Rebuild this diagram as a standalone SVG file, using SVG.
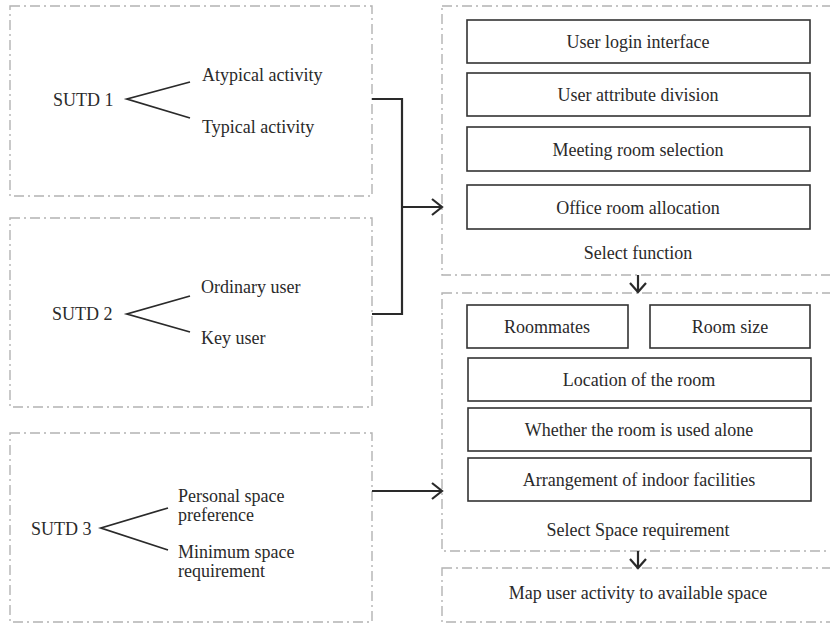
<svg xmlns="http://www.w3.org/2000/svg" width="830" height="623" viewBox="0 0 830 623">
<defs>
<style>
.grp{fill:none;stroke:#b3b3b3;stroke-width:1.4;stroke-dasharray:10 4 2 4}
.box{fill:#fff;stroke:#333;stroke-width:1.6}
.t{font-family:"Liberation Serif","Times New Roman",serif;font-size:18px;fill:#2a2a2a}
.c{text-anchor:middle}
.ln{fill:none;stroke:#2a2a2a;stroke-width:1.8}
.con{fill:none;stroke:#2a2a2a;stroke-width:2.2}
</style>
</defs>
<rect width="830" height="623" fill="#fff"/>
<g id="sutd1">
<rect class="grp" x="10" y="6" width="362" height="190"/>
<text class="t" x="53" y="106">SUTD 1</text>
<polyline class="ln" points="190,82 127,99 190,118"/>
<text class="t" x="202" y="81">Atypical activity</text>
<text class="t" x="202" y="133">Typical activity</text>
</g>
<g id="sutd2">
<rect class="grp" x="10" y="218" width="362" height="189"/>
<text class="t" x="52" y="320">SUTD 2</text>
<polyline class="ln" points="190,296 127,314 190,332"/>
<text class="t" x="201" y="293">Ordinary user</text>
<text class="t" x="201" y="344">Key user</text>
</g>
<g id="sutd3">
<rect class="grp" x="10" y="433" width="362" height="189"/>
<text class="t" x="31" y="535">SUTD 3</text>
<polyline class="ln" points="168,508 101,528 168,550"/>
<text class="t" x="178" y="502">Personal space</text>
<text class="t" x="178" y="521">preference</text>
<text class="t" x="178" y="558">Minimum space</text>
<text class="t" x="178" y="577">requirement</text>
</g>
<g id="select-function">
<rect class="grp" x="442" y="6" width="400" height="269"/>
<rect class="box" x="467" y="20" width="343" height="43"/>
<text class="t c" x="638" y="48">User login interface</text>
<rect class="box" x="467" y="73" width="343" height="43"/>
<text class="t c" x="638" y="101">User attribute division</text>
<rect class="box" x="467" y="127" width="343" height="44"/>
<text class="t c" x="638" y="156">Meeting room selection</text>
<rect class="box" x="467" y="185" width="343" height="44"/>
<text class="t c" x="638" y="214">Office room allocation</text>
<text class="t c" x="638" y="259">Select function</text>
</g>
<g id="select-space">
<rect class="grp" x="442" y="293" width="400" height="258"/>
<rect class="box" x="467" y="305" width="161" height="43"/>
<text class="t c" x="547" y="333">Roommates</text>
<rect class="box" x="650" y="305" width="160" height="43"/>
<text class="t c" x="730" y="333">Room size</text>
<rect class="box" x="468" y="358" width="343" height="43"/>
<text class="t c" x="639" y="386">Location of the room</text>
<rect class="box" x="468" y="408" width="343" height="43"/>
<text class="t c" x="639" y="436">Whether the room is used alone</text>
<rect class="box" x="468" y="458" width="343" height="43"/>
<text class="t c" x="639" y="486">Arrangement of indoor facilities</text>
<text class="t c" x="638" y="536">Select Space requirement</text>
</g>
<g id="map">
<rect class="grp" x="442" y="568" width="400" height="54"/>
<text class="t c" x="638" y="599">Map user activity to available space</text>
</g>
<g id="connectors">
<polyline class="con" points="372,99 402,99 402,314 372,314"/>
<line class="con" x1="402" y1="207" x2="442" y2="207"/>
<polyline class="con" points="432,199 442,207 432,215"/>
<line class="con" x1="372" y1="491" x2="442" y2="491"/>
<polyline class="con" points="432,483 442,491 432,499"/>
<line class="con" x1="638" y1="275" x2="638" y2="292"/>
<polyline class="con" points="630,283 638,292 646,283"/>
<line class="con" x1="638" y1="551" x2="638" y2="568"/>
<polyline class="con" points="630,559 638,568 646,559"/>
</g>
</svg>
